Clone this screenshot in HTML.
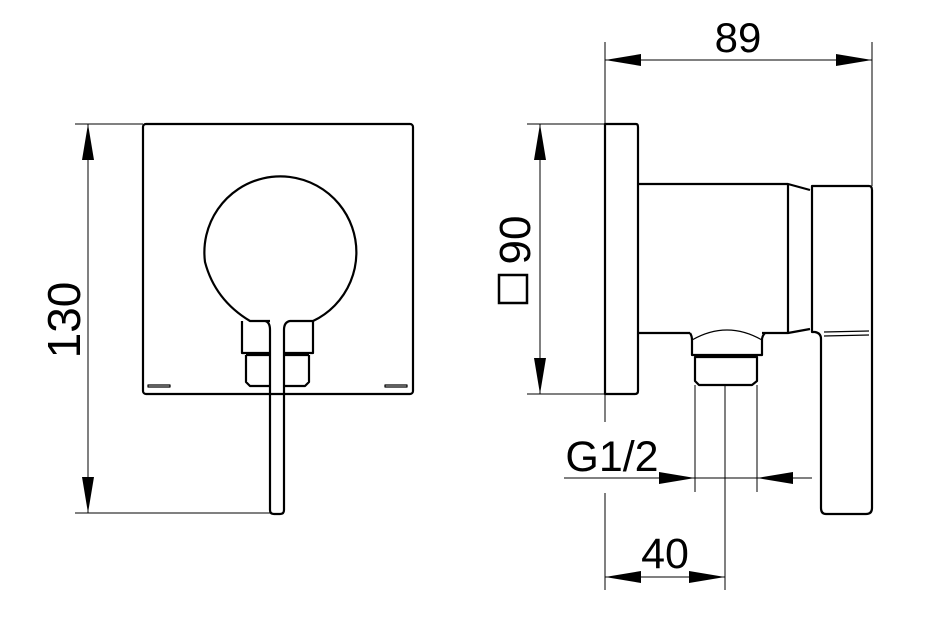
<!DOCTYPE html>
<html><head><meta charset="utf-8"><style>
html,body{margin:0;padding:0;background:#fff;}
svg{display:block}
text{font-family:"Liberation Sans",sans-serif;fill:#000}
</style></head><body>
<svg width="934" height="619" viewBox="0 0 934 619" xmlns="http://www.w3.org/2000/svg">
<g fill="none" stroke="#000" stroke-width="2.2" stroke-linejoin="round">
<!-- left view -->
<rect x="143" y="124" width="270" height="270" rx="3"/>
<path d="M270 321 L265 321 L250 321 Q215 300 205 262 A76 76 0 1 1 313 321 L290 321 Q284 322 284 330 L284 510 Q284 514 280 514 L274 514 Q270 514 270 510 L270 330 Q270 322 265 321"/>
<path d="M242 321 L242 353 L270 353 M284 353 L313 353 L313 321"/>
<path d="M246 355 L246 382 L250 386 L270 386 M284 386 L305 386 L309 382 L309 355"/>
<line x1="246" y1="355" x2="270" y2="355"/><line x1="284" y1="355" x2="309" y2="355"/>
<rect x="148" y="385" width="22" height="2" stroke-width="1.2"/>
<rect x="385" y="385" width="22" height="2" stroke-width="1.2"/>
<!-- right view -->
<path d="M605 124 L636 124 Q638 124 638 127 L638 391 Q638 394 635 394 L605 394 Z"/>
<path d="M638 184 L788 184 L810 190 M638 333 L690 333 M762 333 L788 333 L810 329"/>
<line x1="788" y1="184" x2="788" y2="333"/>
<path d="M812 186 L869 186 Q872 186 872 190 L872 508 Q872 514 866 514 L826 514 Q821 514 821 508 L821 339 Q821 333 815 332 L812 332 Z"/>
<line x1="824" y1="332" x2="869" y2="331" stroke-width="1.2"/>
<line x1="824" y1="336" x2="869" y2="335" stroke-width="1.2"/>
<path d="M690 333 Q692 336 692 340 L692 355 L762 355 L762 340 Q762 336 765 333"/>
<path d="M692 340 Q727 320 762 340" stroke-width="1.2"/>
<path d="M695 357 L695 381 L699 385 L752 385 L757 381 L757 357 Z"/>
</g>
<g stroke="#000" stroke-width="1" fill="none">
<line x1="75" y1="124" x2="143" y2="124"/>
<line x1="75" y1="513" x2="270" y2="513"/>
<line x1="88" y1="124" x2="88" y2="513"/>
<line x1="527" y1="124" x2="605" y2="124"/>
<line x1="527" y1="394" x2="605" y2="394"/>
<line x1="540" y1="124" x2="540" y2="394"/>
<line x1="605" y1="42" x2="605" y2="422"/>
<line x1="605" y1="493" x2="605" y2="590"/>
<line x1="872" y1="42" x2="872" y2="186"/>
<line x1="605" y1="60" x2="872" y2="60"/>
<line x1="564" y1="478" x2="812" y2="478"/>
<line x1="695" y1="385" x2="695" y2="492"/>
<line x1="757" y1="385" x2="757" y2="492"/>
<line x1="725" y1="385" x2="725" y2="590"/>
<line x1="605" y1="577" x2="725" y2="577"/>
</g>
<g fill="#000">
<polygon points="88,124 82,160 94,160"/><polygon points="88,513 82,477 94,477"/>
<polygon points="540,124 534,160 546,160"/><polygon points="540,394 534,358 546,358"/>
<polygon points="605,60 641,54 641,66"/><polygon points="872,60 836,54 836,66"/>
<polygon points="695,478 659,472 659,484"/><polygon points="757,478 793,472 793,484"/>
<polygon points="605,577 641,571 641,583"/><polygon points="725,577 689,571 689,583"/>
</g>
<text x="738" y="52" font-size="42" text-anchor="middle">89</text>
<text x="612" y="471" font-size="43" text-anchor="middle">G1/2</text>
<text x="665" y="568" font-size="43" text-anchor="middle">40</text>
<text transform="translate(80,320) rotate(-90)" font-size="46" text-anchor="middle">130</text>
<text transform="translate(530,240) rotate(-90)" font-size="44" text-anchor="middle">90</text>
<rect x="499" y="275" width="28" height="28" fill="none" stroke="#000" stroke-width="2.5"/>
</svg>
</body></html>
